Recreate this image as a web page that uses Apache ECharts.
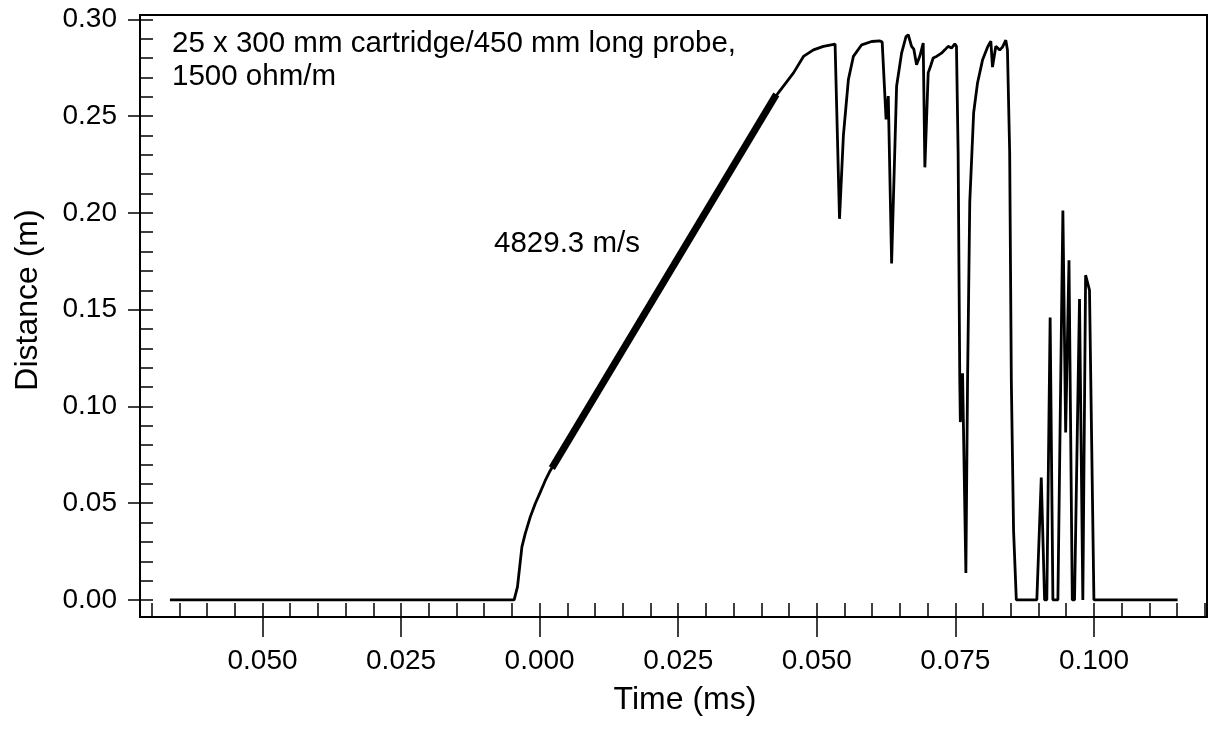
<!DOCTYPE html>
<html>
<head>
<meta charset="utf-8">
<script src="https://cdn.jsdelivr.net/npm/echarts@6/dist/echarts.min.js"></script>
<style>
html,body{margin:0;padding:0;background:#fff;}
#chart{width:1210px;height:729px;}
</style>
</head>
<body>
<div id="chart"></div>
<script>
// ---- data (time in ms, distance in m) ----
var timeMs = [
  -0.0667, -0.0046, -0.0040, -0.0036, -0.0032, -0.0026, -0.0017, -0.0008, 0.0001, 0.0010,
  0.0019, 0.0127, 0.0227, 0.0326, 0.0428, 0.0433, 0.0458, 0.0476, 0.0494, 0.0512,
  0.0533, 0.0536, 0.0541, 0.0548, 0.0557, 0.0566, 0.0581, 0.0599, 0.0614, 0.0618,
  0.0625, 0.0629, 0.0635, 0.0644, 0.0653, 0.0661, 0.0665, 0.0671, 0.0675, 0.0680,
  0.0686, 0.0692, 0.0695, 0.0701, 0.0706, 0.0710, 0.0716, 0.0725, 0.0731, 0.0737,
  0.0743, 0.0749, 0.0752, 0.0755, 0.0758, 0.0759, 0.0763, 0.0769, 0.0772, 0.0776,
  0.0783, 0.0790, 0.0799, 0.0808, 0.0814, 0.0817, 0.0823, 0.0830, 0.0835, 0.0841,
  0.0844, 0.0848, 0.0851, 0.0855, 0.0860, 0.0897, 0.0905, 0.0911, 0.0915, 0.0921,
  0.0926, 0.0935, 0.0944, 0.0949, 0.0955, 0.0961, 0.0965, 0.0974, 0.0980, 0.0985,
  0.0992, 0.1000, 0.1151
];
var distanceM = [
  0, 0, 0.0068, 0.0171, 0.0274, 0.0343, 0.0428, 0.0497, 0.0556, 0.0616,
  0.0668, 0.1176, 0.1644, 0.2127, 0.2610, 0.2629, 0.2723, 0.2808, 0.2842, 0.2860,
  0.2872, 0.2877, 0.1969, 0.2399, 0.2688, 0.2808, 0.2868, 0.2885, 0.2888, 0.2882,
  0.2483, 0.2603, 0.1738, 0.2654, 0.2825, 0.2911, 0.2920, 0.2860, 0.2846, 0.2765,
  0.2810, 0.2877, 0.2235, 0.2723, 0.2764, 0.2800, 0.2808, 0.2825, 0.2842, 0.2860,
  0.2851, 0.2873, 0.2860, 0.2312, 0.1130, 0.0919, 0.1171, 0.0139, 0.1130, 0.2055,
  0.2517, 0.2671, 0.2789, 0.2856, 0.2887, 0.2753, 0.2861, 0.2841, 0.2856, 0.2892,
  0.2841, 0.2312, 0.1130, 0.0360, 0, 0, 0.0633, 0, 0, 0.1459,
  0, 0, 0.2012, 0.0865, 0.1755, 0, 0, 0.1555, 0, 0.1678,
  0.1601, 0, 0
];
// linear fit segment (4829.3 m/s)
var fitTime = [0.0022, 0.0427];
var fitDist = [0.0681, 0.2612];

// ---- ticks ----
var xTickValues = [-0.05, -0.025, 0, 0.025, 0.05, 0.075, 0.1];
var xTickLabels = ['0.050', '0.025', '0.000', '0.025', '0.050', '0.075', '0.100'];
var yTickValues = [0, 0.05, 0.1, 0.15, 0.2, 0.25, 0.3];
var yTickLabels = ['0.00', '0.05', '0.10', '0.15', '0.20', '0.25', '0.30'];

var xTitle = 'Time (ms)';
var yTitle = 'Distance (m)';
var annotationLines = ['25 x 300 mm cartridge/450 mm long probe,', '1500 ohm/m'];
var fitLabel = '4829.3 m/s';

var XMIN = -0.0721, XMAX = 0.1204, YMIN = -0.0088, YMAX = 0.3022;

var xMinor = [];
for (var i = -14; i <= 24; i++) xMinor.push(+(i * 0.005).toFixed(4));
var yMinor = [];
for (var j = 0; j <= 30; j++) yMinor.push(+(j * 0.01).toFixed(3));

function pairs(a, b) { return a.map(function (v, k) { return [v, b[k]]; }); }
function lookup(vals, labels) {
  return function (v) {
    for (var k = 0; k < vals.length; k++) if (Math.abs(vals[k] - v) < 1e-9) return labels[k];
    return '';
  };
}

var FONT = '"Liberation Sans", Arial, sans-serif';
var chart = echarts.init(document.getElementById('chart'), null, { renderer: 'canvas' });

chart.setOption({
  animation: false,
  backgroundColor: '#ffffff',
  grid: {
    left: 140, right: 3, top: 15, bottom: 112,
    containLabel: false, outerBoundsMode: 'none',
    show: true, borderColor: '#000', borderWidth: 2, backgroundColor: 'transparent'
  },
  xAxis: [
    {
      type: 'value', min: XMIN, max: XMAX, position: 'bottom',
      axisLine: { show: true, onZero: false, lineStyle: { color: '#000', width: 2 } },
      axisTick: { show: true, inside: false, length: 20, customValues: xTickValues, lineStyle: { color: '#000', width: 1.5 } },
      axisLabel: {
        show: true, customValues: xTickValues, margin: 30, color: '#000', fontSize: 28, fontFamily: FONT,
        formatter: lookup(xTickValues, xTickLabels)
      },
      splitLine: { show: false }
    },
    {
      type: 'value', min: XMIN, max: XMAX, position: 'bottom',
      axisLine: { show: false, onZero: false },
      axisTick: { show: true, inside: true, length: 14, customValues: xMinor, lineStyle: { color: '#000', width: 1.5 } },
      axisLabel: { show: false },
      splitLine: { show: false }
    }
  ],
  yAxis: [
    {
      type: 'value', min: YMIN, max: YMAX, position: 'left',
      axisLine: { show: true, onZero: false, lineStyle: { color: '#000', width: 2 } },
      axisTick: { show: true, inside: false, length: 12, customValues: yTickValues, lineStyle: { color: '#000', width: 1.5 } },
      axisLabel: {
        show: true, customValues: yTickValues, margin: 23, color: '#000', fontSize: 28, fontFamily: FONT,
        formatter: lookup(yTickValues, yTickLabels)
      },
      splitLine: { show: false }
    },
    {
      type: 'value', min: YMIN, max: YMAX, position: 'left',
      axisLine: { show: false, onZero: false },
      axisTick: { show: true, inside: true, length: 13, customValues: yMinor, lineStyle: { color: '#000', width: 1.5 } },
      axisLabel: { show: false },
      splitLine: { show: false }
    }
  ],
  graphic: [
    { type: 'text', left: 172, top: 27, style: { text: annotationLines.join('\n'), fill: '#000', font: '29.5px ' + FONT, lineHeight: 33 } },
    { type: 'text', left: 494, top: 229, style: { text: fitLabel, fill: '#000', font: '29.5px ' + FONT } },
    { type: 'text', x: 685, y: 700, style: { text: xTitle, fill: '#000', font: '32px ' + FONT, align: 'center', verticalAlign: 'middle' } },
    { type: 'text', x: 28, y: 300, rotation: Math.PI / 2, style: { text: yTitle, fill: '#000', font: '32px ' + FONT, align: 'center', verticalAlign: 'middle' } }
  ],
  series: [
    {
      type: 'line', xAxisIndex: 0, yAxisIndex: 0, data: pairs(timeMs, distanceM),
      showSymbol: false, symbol: 'none', smooth: false,
      lineStyle: { color: '#000', width: 2.8 }, z: 3
    },
    {
      type: 'line', xAxisIndex: 0, yAxisIndex: 0, data: pairs(fitTime, fitDist),
      showSymbol: false, symbol: 'none',
      lineStyle: { color: '#000', width: 7, cap: 'butt' }, z: 4
    }
  ]
});
</script>
</body>
</html>
